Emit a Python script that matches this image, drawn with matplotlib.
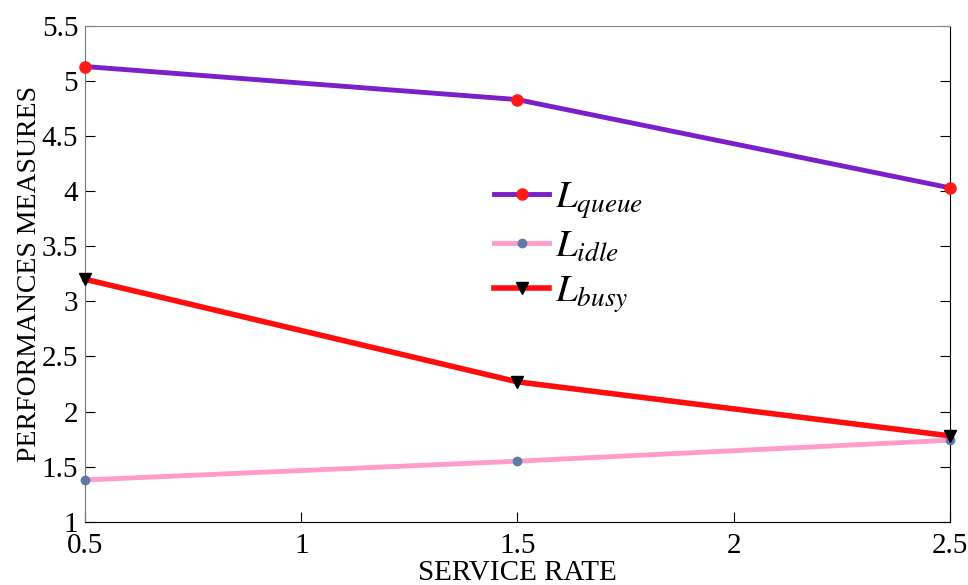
import matplotlib
matplotlib.use('Agg')
import matplotlib.pyplot as plt

plt.rcParams['font.family'] = ['Liberation Serif', 'DejaVu Serif']
plt.rcParams['mathtext.fontset'] = 'stix'

service_rate = [0.5, 1.5, 2.5]
l_queue = [5.13, 4.83, 4.03]
l_idle = [1.38, 1.55, 1.74]
l_busy = [3.20, 2.27, 1.78]

fig = plt.figure(figsize=(9.68, 5.85), dpi=100)
ax = fig.add_axes([0.088, 0.108, 0.893, 0.848])

ax.plot(service_rate, l_queue, color='#7a1fc9', lw=3.5, marker='o', ms=8,
        mfc='#ff1a1a', mec='#ff1a1a', label=r'$L_{queue}$', clip_on=False, zorder=3)
ax.plot(service_rate, l_idle, color='#ff9ccc', lw=3.5, marker='o', ms=6,
        mfc='#5e7aa6', mec='#5e7aa6', label=r'$L_{idle}$', clip_on=False, zorder=3)
ax.plot(service_rate, l_busy, color='#ff0d0d', lw=4, marker='v', ms=9,
        mfc='black', mec='black', label=r'$L_{busy}$', clip_on=False, zorder=3)

ax.set_xlim(0.5, 2.5)
ax.set_ylim(1, 5.5)
ax.set_xticks([0.5, 1, 1.5, 2, 2.5])
ax.set_xticklabels(['0.5', '1', '1.5', '2', '2.5'])
ax.set_yticks([1, 1.5, 2, 2.5, 3, 3.5, 4, 4.5, 5, 5.5])
ax.set_yticklabels(['1', '1.5', '2', '2.5', '3', '3.5', '4', '4.5', '5', '5.5'])
ax.tick_params(direction='in', labelsize=21, length=7, right=True, top=False)
ax.tick_params(axis='x', pad=8)
ax.tick_params(axis='y', pad=5)
ax.spines['top'].set_color('#888888')
ax.spines['left'].set_color('#777777')

ax.set_xlabel('SERVICE RATE', fontsize=21, labelpad=1)
ax.set_ylabel('PERFORMANCES MEASURES', fontsize=20, labelpad=0)

ax.legend(loc='upper left', bbox_to_anchor=(0.433, 0.76), frameon=False,
          fontsize=28, handlelength=1.4, labelspacing=0.2, handletextpad=0.15)

fig.savefig('out.png', dpi=100)
